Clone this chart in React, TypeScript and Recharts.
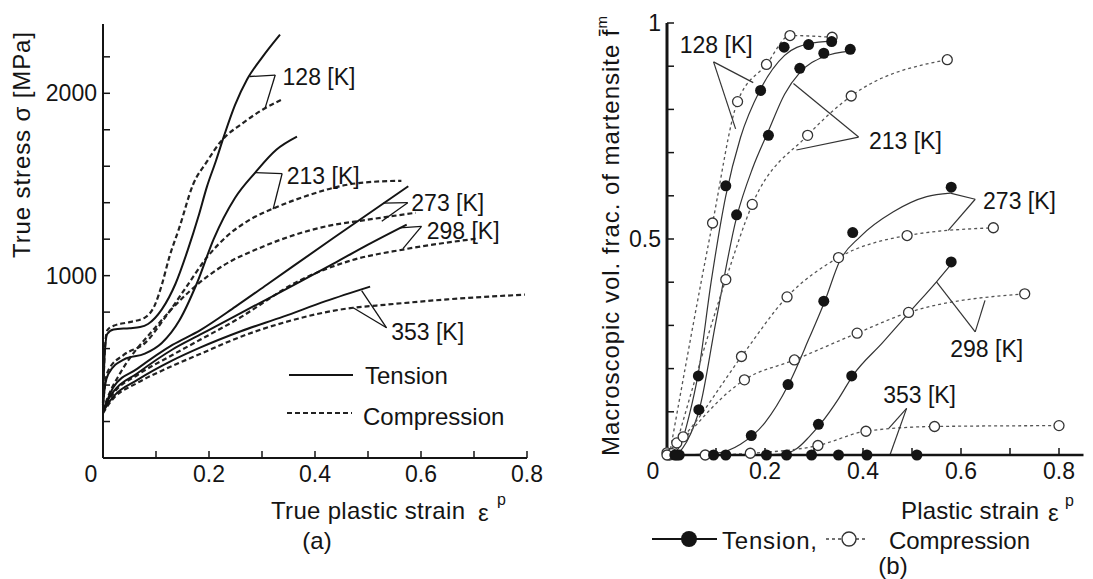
import React from "react";
import { LineChart, Line, XAxis, YAxis, ReferenceLine, ReferenceDot } from "recharts";

// ---------- panel (a): true stress [MPa] vs true plastic strain ----------
const tension128 = [[0, 300], [0.003, 560], [0.008, 680], [0.02, 705], [0.05, 712], [0.07, 718], [0.085, 735], [0.111, 815], [0.137, 957], [0.16, 1141], [0.18, 1324], [0.196, 1487], [0.213, 1629], [0.229, 1772], [0.249, 1935], [0.272, 2077], [0.301, 2200], [0.334, 2322]];
const compression128 = [[0, 300], [0.003, 570], [0.008, 700], [0.02, 725], [0.05, 745], [0.079, 770], [0.098, 840], [0.111, 950], [0.125, 1100], [0.144, 1263], [0.17, 1500], [0.196, 1625], [0.222, 1735], [0.262, 1833], [0.301, 1910], [0.337, 1965]];
const tension213 = [[0, 290], [0.004, 400], [0.01, 460], [0.039, 540], [0.079, 572], [0.111, 631], [0.144, 754], [0.177, 957], [0.209, 1202], [0.249, 1426], [0.288, 1568], [0.327, 1690], [0.366, 1762]];
const compression213 = [[0, 290], [0.004, 410], [0.01, 480], [0.039, 565], [0.079, 630], [0.118, 774], [0.157, 937], [0.196, 1100], [0.236, 1222], [0.275, 1303], [0.327, 1375], [0.393, 1446], [0.458, 1497], [0.524, 1517], [0.563, 1520]];
const tension273 = [[0, 260], [0.01, 330], [0.02, 390], [0.065, 490], [0.131, 620], [0.183, 700], [0.25, 830], [0.309, 950], [0.434, 1205], [0.535, 1408], [0.576, 1490]];
const compression273 = [[0, 260], [0.01, 340], [0.033, 468], [0.098, 713], [0.164, 916], [0.229, 1059], [0.295, 1151], [0.36, 1222], [0.425, 1273], [0.491, 1303], [0.59, 1345]];
const tension298 = [[0, 255], [0.01, 320], [0.02, 365], [0.065, 465], [0.131, 595], [0.183, 676], [0.25, 780], [0.309, 870], [0.372, 967], [0.434, 1064], [0.5, 1170], [0.573, 1280]];
const compression298 = [[0, 255], [0.01, 310], [0.02, 355], [0.065, 455], [0.131, 565], [0.183, 648], [0.25, 755], [0.372, 975], [0.47, 1085], [0.566, 1143], [0.705, 1203]];
const tension353 = [[0, 250], [0.01, 300], [0.02, 338], [0.065, 428], [0.131, 535], [0.183, 605], [0.26, 695], [0.34, 775], [0.42, 860], [0.504, 940]];
const compression353 = [[0, 245], [0.01, 292], [0.02, 328], [0.065, 412], [0.131, 505], [0.183, 570], [0.26, 665], [0.34, 742], [0.472, 824], [0.516, 836], [0.65, 870], [0.796, 896]];

const stressTicks = [0, 200, 400, 600, 800, 1000, 1200, 1400, 1600, 1800, 2000, 2200];
const stressLabels = [1000, 2000];
const strainTicksA = [0, 0.1, 0.2, 0.3, 0.4, 0.5, 0.6, 0.7, 0.8];
const strainLabelsA = [0, 0.2, 0.4, 0.6, 0.8];

// temperature callouts: label anchor, apex, and the two curve points
const calloutsA = [
  { text: "128 [K]", at: [0.335, 2089], apex: [0.325, 2100], ends: [[0.277, 2092], [0.306, 1920]] },
  { text: "213 [K]", at: [0.343, 1546], apex: [0.338, 1560], ends: [[0.287, 1565], [0.321, 1365]] },
  { text: "273 [K]", at: [0.578, 1398], apex: [0.575, 1400], ends: [[0.529, 1398], [0.526, 1298]] },
  { text: "298 [K]", at: [0.607, 1245], apex: [0.601, 1270], ends: [[0.56, 1262], [0.566, 1148]] },
  { text: "353 [K]", at: [0.54, 691], apex: [0.535, 714], ends: [[0.488, 918], [0.472, 824]] },
];

// ---------- panel (b): martensite fraction vs plastic strain ----------
const markTension128 = [[0.016, 0], [0.064, 0.183], [0.12, 0.623], [0.191, 0.844], [0.239, 0.944], [0.289, 0.95], [0.336, 0.957]];
const markTension213 = [[0.025, 0], [0.065, 0.105], [0.142, 0.556], [0.207, 0.74], [0.271, 0.895], [0.32, 0.93], [0.374, 0.939]];
const markTension273 = [[0.095, 0], [0.172, 0.045], [0.247, 0.163], [0.32, 0.356], [0.379, 0.515], [0.58, 0.62]];
const markTension298 = [[0.12, 0], [0.203, 0], [0.244, 0], [0.309, 0.071], [0.377, 0.183], [0.58, 0.447]];
const markTension353 = [[0.02, 0], [0.295, 0], [0.35, 0], [0.408, 0], [0.51, 0]];

const fitTension128 = [[0.012, 0], [0.03, 0.03], [0.045, 0.09], [0.064, 0.19], [0.09, 0.4], [0.12, 0.6], [0.15, 0.735], [0.19, 0.845], [0.24, 0.925], [0.29, 0.952], [0.336, 0.958]];
const fitTension213 = [[0.02, 0], [0.04, 0.03], [0.067, 0.11], [0.1, 0.31], [0.142, 0.55], [0.175, 0.665], [0.207, 0.75], [0.24, 0.835], [0.271, 0.885], [0.32, 0.922], [0.374, 0.935]];
const fitTension273 = [[0.02, 0], [0.1, 0.004], [0.15, 0.025], [0.2, 0.075], [0.248, 0.163], [0.29, 0.27], [0.322, 0.356], [0.353, 0.45], [0.394, 0.505], [0.462, 0.563], [0.53, 0.598], [0.578, 0.606]];
const fitTension298 = [[0.2, 0], [0.24, 0.003], [0.265, 0.015], [0.29, 0.042], [0.314, 0.073], [0.35, 0.13], [0.38, 0.185], [0.44, 0.26], [0.496, 0.332], [0.55, 0.401], [0.584, 0.447]];
const fitTension353 = [[0.02, 0], [0.84, 0]];

const markCompression128 = [[0.005, 0], [0.093, 0.537], [0.144, 0.818], [0.203, 0.904], [0.251, 0.971], [0.337, 0.967]];
const markCompression213 = [[0.02, 0.028], [0.12, 0.406], [0.174, 0.58], [0.287, 0.74], [0.376, 0.831], [0.572, 0.915]];
const markCompression273 = [[0, 0.005], [0.033, 0.042], [0.152, 0.228], [0.245, 0.366], [0.35, 0.457], [0.49, 0.508], [0.666, 0.526]];
const markCompression298 = [[0.01, 0.003], [0.158, 0.174], [0.26, 0.22], [0.388, 0.282], [0.493, 0.33], [0.73, 0.373]];
const markCompression353 = [[0, 0], [0.078, 0], [0.17, 0.004], [0.308, 0.022], [0.406, 0.055], [0.546, 0.066], [0.8, 0.068]];

const fracTicks = [0, 0.1, 0.2, 0.3, 0.4, 0.5, 0.6, 0.7, 0.8, 0.9, 1];
const fracLabels = [0.5, 1];
const strainTicksB = [0, 0.1, 0.2, 0.3, 0.4, 0.5, 0.6, 0.7, 0.8];
const strainLabelsB = [0, 0.2, 0.4, 0.6, 0.8];

const calloutsB = [
  { text: "128 [K]", at: [0.022, 0.949], lines: [[[0.095, 0.91], [0.176, 0.862]], [[0.095, 0.91], [0.14, 0.755]]] },
  { text: "213 [K]", at: [0.408, 0.727], lines: [[[0.391, 0.736], [0.258, 0.86]], [[0.391, 0.736], [0.264, 0.706]]] },
  { text: "273 [K]", at: [0.641, 0.588], lines: [[[0.629, 0.592], [0.578, 0.606]], [[0.629, 0.592], [0.574, 0.52]]] },
  { text: "298 [K]", at: [0.574, 0.245], lines: [[[0.55, 0.401], [0.629, 0.285]], [[0.629, 0.285], [0.649, 0.358]]] },
  { text: "353 [K]", at: [0.437, 0.139], lines: [[[0.489, 0.108], [0.455, 0]], [[0.489, 0.108], [0.453, 0.062]]] },
];

const FONT = "'Liberation Sans', Arial, Helvetica, sans-serif";
const INK = "#141414";
const pts = (arr: number[][]) => arr.map(([x, y]) => ({ x, y }));
const fmt = (v: number) => (v === 0 ? "0" : String(v));

// layout (panel a in page coords, panel b local to its own svg)
const AXW = 60; // y axis band width
const AXH = 30; // x axis band height
const A = { left: 103, axisY: 458, top: 24, width: 560 };
const B = { offsetX: 560, left: 107, axisY: 455, top: 23, width: 533 };

const textStyle = { fontFamily: FONT, fontSize: 23, fill: INK };

function makeXTick(axisY: number, labels: number[], zeroShift: number) {
  return (props: any) => {
    const { x, payload } = props;
    const v = payload.value;
    return (
      <g>
        {v > 0 && <line x1={x} x2={x} y1={axisY} y2={axisY - 7} stroke={INK} strokeWidth={1.5} />}
        {labels.includes(v) && (
          <text x={v === 0 ? x - zeroShift : x} y={axisY + 16} textAnchor="middle" dominantBaseline="central" style={textStyle}>
            {fmt(v)}
          </text>
        )}
      </g>
    );
  };
}

function makeYTick(axisX: number, labels: number[]) {
  return (props: any) => {
    const { y, payload } = props;
    const v = payload.value;
    return (
      <g>
        {v > 0 && <line x1={axisX} x2={axisX + 7} y1={y} y2={y} stroke={INK} strokeWidth={1.5} />}
        {labels.includes(v) && (
          <text x={axisX - 6} y={y} textAnchor="end" dominantBaseline="central" style={textStyle}>
            {fmt(v)}
          </text>
        )}
      </g>
    );
  };
}

const filledDot = (p: any) => <circle key={`f${p.index}`} cx={p.cx} cy={p.cy} r={5.5} fill={INK} stroke="none" />;
const openDot = (p: any) => <circle key={`o${p.index}`} cx={p.cx} cy={p.cy} r={5} fill="#fff" stroke="#333" strokeWidth={1.3} strokeDasharray="none" />;

function PanelA() {
  const solid = [tension128, tension213, tension273, tension298, tension353];
  const dashed = [compression128, compression213, compression273, compression298, compression353];
  return (
    <LineChart width={A.width} height={579} margin={{ top: A.top, left: A.left - AXW, right: 33, bottom: 579 - A.axisY - AXH }}>
      <XAxis type="number" dataKey="x" domain={[0, 0.8]} ticks={strainTicksA} interval={0} height={AXH} tickLine={false}
        axisLine={{ stroke: INK, strokeWidth: 2 }} tick={makeXTick(A.axisY, strainLabelsA, 12)} />
      <YAxis type="number" domain={[0, 2380]} ticks={stressTicks} interval={0} width={AXW} tickLine={false}
        axisLine={{ stroke: INK, strokeWidth: 2 }} tick={makeYTick(A.left, stressLabels)} />
      {dashed.map((d, i) => (
        <Line key={`c${i}`} data={pts(d)} dataKey="y" type="monotone" stroke="#222" strokeWidth={2.2} strokeDasharray="5 3"
          dot={false} activeDot={false} isAnimationActive={false} />
      ))}
      {solid.map((d, i) => (
        <Line key={`t${i}`} data={pts(d)} dataKey="y" type="monotone" stroke={INK} strokeWidth={2}
          dot={false} activeDot={false} isAnimationActive={false} />
      ))}
      {calloutsA.map((c) =>
        c.ends.map((e, j) => (
          <ReferenceLine key={`${c.text}${j}`} segment={[{ x: c.apex[0], y: c.apex[1] }, { x: e[0], y: e[1] }]}
            stroke={INK} strokeWidth={1.3} ifOverflow="visible" />
        ))
      )}
      {calloutsA.map((c) => (
        <ReferenceDot key={c.text} x={c.at[0]} y={c.at[1]} r={0} fill="none" stroke="none" ifOverflow="visible"
          label={{ value: c.text, position: "right", offset: 2, ...textStyle }} />
      ))}
    </LineChart>
  );
}

function PanelB() {
  const fits = [fitTension128, fitTension213, fitTension273, fitTension298, fitTension353];
  const marksT = [markTension128, markTension213, markTension273, markTension298, markTension353];
  const marksC = [markCompression128, markCompression213, markCompression273, markCompression298, markCompression353];
  return (
    <LineChart width={B.width} height={579} margin={{ top: B.top, left: B.left - AXW, right: 9.5, bottom: 579 - B.axisY - AXH }}>
      <XAxis type="number" dataKey="x" domain={[0, 0.85]} ticks={strainTicksB} interval={0} height={AXH} tickLine={false}
        axisLine={{ stroke: INK, strokeWidth: 2.5 }} tick={makeXTick(B.axisY, strainLabelsB, 14)} />
      <YAxis type="number" domain={[0, 1]} ticks={fracTicks} interval={0} width={AXW} tickLine={false}
        axisLine={{ stroke: INK, strokeWidth: 3 }} tick={makeYTick(B.left, fracLabels)} />
      {fits.map((d, i) => (
        <Line key={`ft${i}`} data={pts(d)} dataKey="y" type="monotone" stroke="#333" strokeWidth={1.2}
          dot={false} activeDot={false} isAnimationActive={false} />
      ))}
      {marksC.map((d, i) => (
        <Line key={`mc${i}`} data={pts(d)} dataKey="y" type="monotone" stroke="#555" strokeWidth={1.3} strokeDasharray="3 3"
          dot={openDot} activeDot={false} isAnimationActive={false} />
      ))}
      {marksT.map((d, i) => (
        <Line key={`mt${i}`} data={pts(d)} dataKey="y" stroke="none" dot={filledDot} activeDot={false} isAnimationActive={false} />
      ))}
      {calloutsB.map((c) =>
        c.lines.map((l, j) => (
          <ReferenceLine key={`${c.text}${j}`} segment={[{ x: l[0][0], y: l[0][1] }, { x: l[1][0], y: l[1][1] }]}
            stroke="#333" strokeWidth={1.2} ifOverflow="visible" />
        ))
      )}
      {calloutsB.map((c) => (
        <ReferenceDot key={c.text} x={c.at[0]} y={c.at[1]} r={0} fill="none" stroke="none" ifOverflow="visible"
          label={{ value: c.text, position: "right", offset: 2, ...textStyle }} />
      ))}
    </LineChart>
  );
}

function Overlay() {
  const t = { fontFamily: FONT, fontSize: 24, fill: INK };
  return (
    <svg width={1093} height={579} style={{ position: "absolute", left: 0, top: 0, pointerEvents: "none" }}>
      {/* panel (a) titles */}
      <text transform="rotate(-90 21 145)" x={21} y={145} textAnchor="middle" dominantBaseline="central" textLength={226} lengthAdjust="spacing" style={t}>
        True stress σ  [MPa]
      </text>
      <text x={271} y={510} dominantBaseline="central" textLength={194} lengthAdjust="spacing" style={t}>True plastic strain</text>
      <text x={478} y={512} dominantBaseline="central" style={t}>ε</text>
      <text x={497} y={499} dominantBaseline="central" style={{ ...t, fontSize: 16 }}>p</text>
      <text x={317} y={540} textAnchor="middle" dominantBaseline="central" style={t}>(a)</text>
      <line x1={289} x2={353} y1={375} y2={375} stroke={INK} strokeWidth={2} />
      <text x={365} y={375} dominantBaseline="central" style={t}>Tension</text>
      <line x1={287} x2={352} y1={413} y2={413} stroke="#222" strokeWidth={2.2} strokeDasharray="5 3" />
      <text x={363} y={416} dominantBaseline="central" style={t}>Compression</text>

      {/* panel (b) titles */}
      <text transform="rotate(-90 610 236)" x={610} y={236} textAnchor="middle" dominantBaseline="central" textLength={440} lengthAdjust="spacing" style={t}>
        Macroscopic vol. frac. of martensite f̄<tspan dy={-9} fontSize={15}>m</tspan>
      </text>
      <text x={901} y={510} dominantBaseline="central" textLength={138} lengthAdjust="spacing" style={t}>Plastic strain</text>
      <text x={1048} y={512} dominantBaseline="central" style={t}>ε</text>
      <text x={1065} y={500} dominantBaseline="central" style={{ ...t, fontSize: 16 }}>p</text>
      <line x1={652} x2={717} y1={539} y2={539} stroke={INK} strokeWidth={2} />
      <circle cx={689} cy={539} r={8} fill={INK} />
      <text x={722} y={540} dominantBaseline="central" textLength={95} lengthAdjust="spacing" style={t}>Tension,</text>
      <line x1={826} x2={867} y1={539} y2={539} stroke="#444" strokeWidth={1.5} strokeDasharray="3 3" />
      <circle cx={849} cy={539} r={7} fill="#fff" stroke="#333" strokeWidth={1.4} />
      <text x={889} y={540} dominantBaseline="central" textLength={141} lengthAdjust="spacing" style={t}>Compression</text>
      <text x={893} y={565} textAnchor="middle" dominantBaseline="central" style={t}>(b)</text>
    </svg>
  );
}

export default function App() {
  return (
    <div style={{ position: "absolute", left: 0, top: 0, width: 1093, height: 579, background: "#fff", overflow: "hidden" }}>
      <div style={{ position: "absolute", left: 0, top: 0 }}>
        <PanelA />
      </div>
      <div style={{ position: "absolute", left: B.offsetX, top: 0 }}>
        <PanelB />
      </div>
      <Overlay />
    </div>
  );
}
